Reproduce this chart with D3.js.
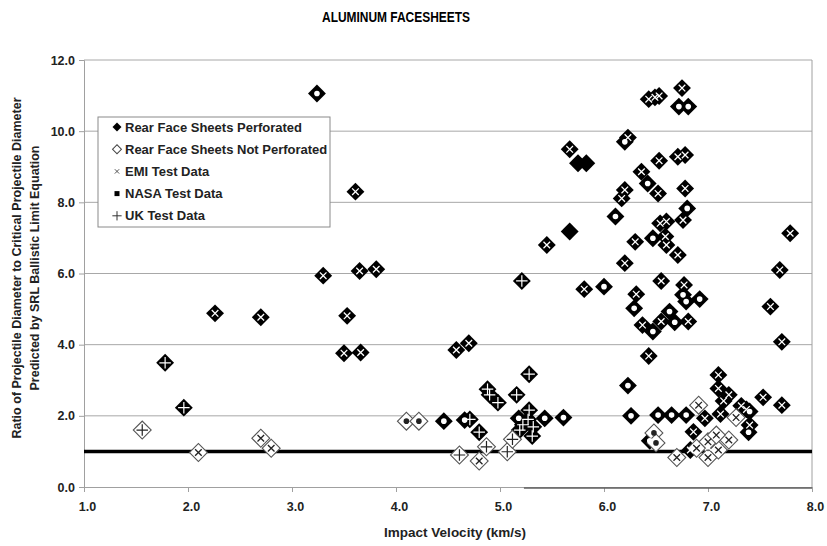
<!DOCTYPE html>
<html>
<head>
<script src="https://cdnjs.cloudflare.com/ajax/libs/d3/7.8.5/d3.min.js"></script>
<style>
  body { margin: 0; background: #fff; }
  svg { font-family: "Liberation Sans", Arial, sans-serif; }
</style>
</head>
<body>
<div id="vis"></div>
<script>
// [impact velocity km/s, diameter ratio]
const perfEMI = [
  [2.26,4.88],[2.70,4.77],[3.30,5.94],[3.53,4.81],[3.50,3.76],[3.66,3.78],[3.65,6.07],[3.81,6.12],[3.61,8.30],
  [4.58,3.85],[4.70,4.04],[5.45,6.80],[5.67,9.49],[5.81,5.56],
  [6.43,10.90],[6.49,10.95],[6.53,10.99],[6.75,11.21],
  [6.23,9.82],[6.53,9.17],[6.71,9.28],[6.78,9.33],[6.36,8.86],[6.52,8.25],[6.78,8.39],[6.17,8.11],[6.20,8.35],
  [6.54,7.41],[6.60,7.46],[6.76,7.50],[6.59,7.04],[6.60,6.80],[6.71,6.52],[6.30,6.89],[6.20,6.29],
  [6.31,5.42],[6.37,4.55],[6.55,4.65],[6.81,4.65],[6.55,5.79],[6.77,5.68],[6.43,3.68],
  [7.79,7.13],[7.69,6.10],[7.60,5.07],[7.71,4.08],
  [7.10,3.15],[7.10,2.77],[7.20,2.59],[7.15,2.42],[7.32,2.28],[7.37,2.18],[7.53,2.52],[7.71,2.30],
  [7.40,1.74],[7.12,2.05],[6.97,1.93],[6.86,1.55],[6.83,1.04],[7.00,1.12]
];
const perfNASA = [
  [3.24,11.06],[4.46,1.85],[4.66,1.88],[5.18,1.93],[5.43,1.93],[5.61,1.95],
  [6.72,10.69],[6.81,10.69],[6.20,9.70],[6.42,8.53],[6.80,7.83],[6.11,7.60],[6.47,6.99],
  [6.00,5.63],[6.29,5.02],[6.47,4.37],[6.63,4.93],[6.68,4.63],[6.76,5.40],[6.79,5.21],[6.92,5.28],
  [6.23,2.85],[6.26,2.00],[6.52,2.02],[6.65,2.02],[6.79,2.02],[7.40,2.12],[7.39,1.54],[6.44,1.30]
];
const perfUK = [
  [1.78,3.49],[1.96,2.23],[4.71,1.90],[4.80,1.54],[4.88,2.75],[4.90,2.59],[4.98,2.37],[5.16,2.59],
  [5.28,2.16],[5.27,1.90],[5.19,1.60],[5.32,1.69],[5.31,1.43],[5.22,1.75],[5.28,3.17],[5.21,5.79]
];
const perfOther = [[5.75,9.10],[5.83,9.10],[5.67,7.18]];
const notPerfEMI = [
  [2.10,0.97],[2.70,1.37],[2.80,1.09],[4.80,0.73],[6.91,2.30],[7.27,1.95],[6.70,0.83],[6.89,1.09],
  [7.00,0.83],[7.10,1.04],[7.20,1.32],[7.00,1.27],[7.08,1.46]
];
const notPerfNASA = [[4.10,1.85],[4.22,1.85],[6.48,1.52],[6.50,1.24]];
const notPerfUK = [[1.56,1.60],[4.61,0.90],[4.87,1.13],[5.07,0.99],[5.12,1.34]];

const threshold = 1.0;
const xTicks = [1,2,3,4,5,6,7,8];
const yTicks = [0,2,4,6,8,10,12];
const legendLabels = ["Rear Face Sheets Perforated","Rear Face Sheets Not Perforated","EMI Test Data","NASA Test Data","UK Test Data"];

const width = 827, height = 546;
const margin = {top: 60, right: 15, bottom: 59, left: 84};
const svg = d3.select("#vis").append("svg").attr("width", width).attr("height", height);

const x = d3.scaleLinear().domain([1, 8]).range([margin.left, width - margin.right]);
const y = d3.scaleLinear().domain([0, 12]).range([height - margin.bottom, margin.top]);

svg.append("text").attr("x", 396).attr("y", 22).attr("text-anchor", "middle")
  .attr("font-weight", "bold").attr("font-size", 14.5)
  .attr("textLength", 148).attr("lengthAdjust", "spacingAndGlyphs")
  .text("ALUMINUM FACESHEETS");

// grid
svg.append("g").selectAll("line").data(yTicks.filter(d => d > 0)).join("line")
  .attr("x1", x(1)).attr("x2", x(8)).attr("y1", d => y(d)).attr("y2", d => y(d))
  .attr("stroke", "#a8a8a8").attr("stroke-width", 1);
// frame
svg.append("line").attr("x1", x(8)).attr("x2", x(8)).attr("y1", y(12)).attr("y2", y(0)).attr("stroke", "#a0a0a0");

const xAxis = svg.append("g").attr("transform", `translate(0,${y(0)})`)
  .call(d3.axisBottom(x).tickValues(xTicks).tickFormat(d3.format(".1f")).tickSize(5).tickPadding(10));
const yAxis = svg.append("g").attr("transform", `translate(${x(1)},0)`)
  .call(d3.axisLeft(y).tickValues(yTicks).tickFormat(d3.format(".1f")).tickSize(5).tickPadding(4));
[xAxis, yAxis].forEach(g => {
  g.select(".domain").attr("stroke", "#a0a0a0");
  g.selectAll(".tick line").attr("stroke", "#a0a0a0");
  g.selectAll("text").attr("font-size", 12.5).attr("font-weight", "bold").attr("fill", "#222")
    .attr("font-family", "'Liberation Sans', Arial");
});
xAxis.selectAll("text").attr("dx", 3);
// darker piece of the bottom border
svg.append("line").attr("x1", x(5.23)).attr("x2", x(8)).attr("y1", y(0) + 1).attr("y2", y(0) + 1)
  .attr("stroke", "#606060").attr("stroke-width", 1.5);

svg.append("text").attr("x", 455).attr("y", 537).attr("text-anchor", "middle")
  .attr("font-weight", "bold").attr("font-size", 13.5).attr("fill", "#222").text("Impact Velocity (km/s)");
const yTitle = svg.append("text").attr("transform", "translate(21,268) rotate(-90)")
  .attr("text-anchor", "middle").attr("font-weight", "bold").attr("font-size", 12.5).attr("fill", "#222");
yTitle.append("tspan").attr("x", 0).attr("dy", 0).text("Ratio of Projectile Diameter to Critical Projectile Diameter");
yTitle.append("tspan").attr("x", 0).attr("dy", 18).text("Predicted by SRL Ballistic Limit Equation");

// threshold line
svg.append("line").attr("x1", x(1)).attr("x2", x(8)).attr("y1", y(threshold)).attr("y2", y(threshold))
  .attr("stroke", "#000").attr("stroke-width", 3.5);

const diamond = d3.symbol().type(d3.symbolSquare).size(160);
const pos = d => `translate(${x(d[0])},${y(d[1])})`;

const perfAll = [...perfEMI, ...perfNASA, ...perfUK, ...perfOther];
const notPerfAll = [...notPerfEMI, ...notPerfNASA, ...notPerfUK];

const marks = svg.append("g");
marks.selectAll("path.perf").data(perfAll).join("path").attr("class", "perf")
  .attr("d", diamond).attr("transform", d => pos(d) + " rotate(45)").attr("fill", "#000");
marks.selectAll("path.nperf").data(notPerfAll).join("path").attr("class", "nperf")
  .attr("d", diamond).attr("transform", d => pos(d) + " rotate(45)")
  .attr("fill", "#fff").attr("stroke", "#555").attr("stroke-width", 1.1);

const timesSym = d3.symbol().type(d3.symbolTimes).size(30);
const plusSym = d3.symbol().type(d3.symbolPlus).size(45);
function inner(data, color) {
  marks.append("g").selectAll("path").data(data.emi).join("path")
    .attr("d", timesSym).attr("transform", pos).attr("fill", "none").attr("stroke", color).attr("stroke-width", 1.3);
  marks.append("g").selectAll("circle").data(data.nasa).join("circle")
    .attr("cx", d => x(d[0])).attr("cy", d => y(d[1])).attr("r", 2.8).attr("fill", color);
  marks.append("g").selectAll("path").data(data.uk).join("path")
    .attr("d", plusSym).attr("transform", pos).attr("fill", "none").attr("stroke", color).attr("stroke-width", 1.2);
}
inner({emi: perfEMI, nasa: perfNASA, uk: perfUK}, "#fff");
inner({emi: notPerfEMI, nasa: notPerfNASA, uk: notPerfUK}, "#222");

// legend
const lg = svg.append("g").attr("transform", "translate(98,117)");
lg.append("rect").attr("width", 232).attr("height", 110).attr("fill", "#fff").attr("stroke", "#8a8a8a");
const item = lg.selectAll("g").data(legendLabels).join("g")
  .attr("transform", (d, i) => `translate(19,${10 + i * 22.2})`);
item.append("text").attr("x", 8).attr("dy", "0.36em").attr("font-size", 13).attr("font-weight", "bold")
  .attr("fill", "#222").text(d => d);
const smallDiamond = d3.symbol().type(d3.symbolSquare).size(40);
item.filter((d, i) => i === 0).append("path").attr("d", smallDiamond).attr("transform", "rotate(45)").attr("fill", "#000");
item.filter((d, i) => i === 1).append("path").attr("d", smallDiamond).attr("transform", "rotate(45)")
  .attr("fill", "#fff").attr("stroke", "#444");
item.filter((d, i) => i === 2).append("path").attr("d", d3.symbol().type(d3.symbolTimes).size(14))
  .attr("fill", "none").attr("stroke", "#555");
item.filter((d, i) => i === 3).append("rect").attr("x", -2.5).attr("y", -2.5).attr("width", 5).attr("height", 5).attr("fill", "#000");
item.filter((d, i) => i === 4).append("path").attr("d", d3.symbol().type(d3.symbolPlus).size(30))
  .attr("fill", "none").attr("stroke", "#333");
</script>
</body>
</html>
